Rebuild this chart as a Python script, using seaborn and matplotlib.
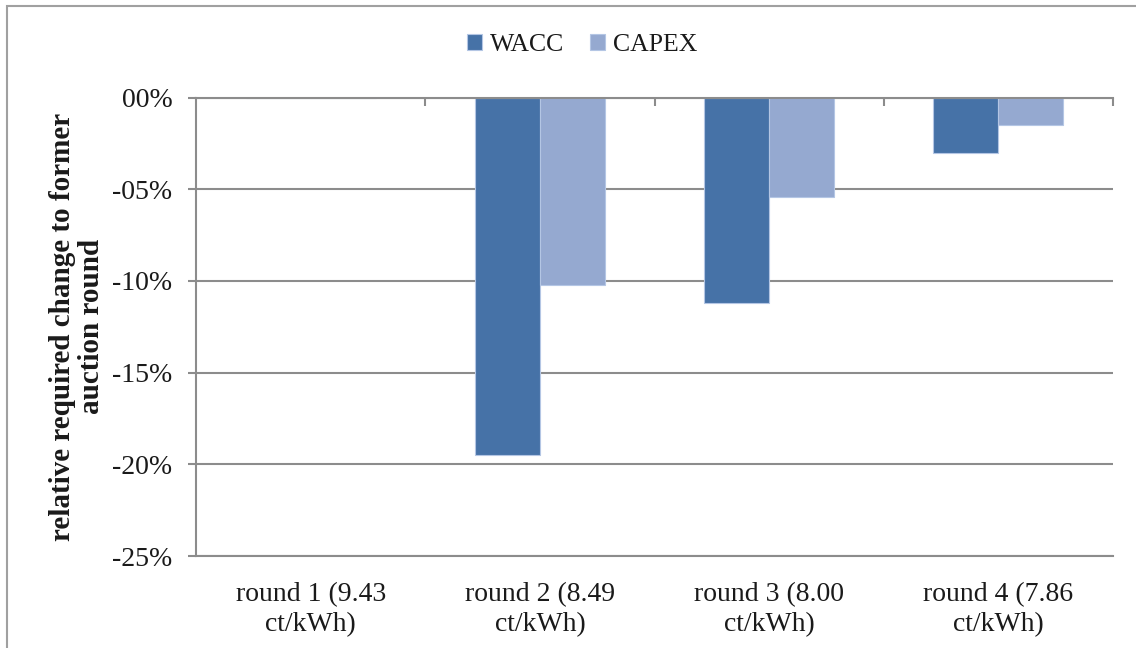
import matplotlib
matplotlib.use("Agg")
import matplotlib.pyplot as plt
from matplotlib.patches import Rectangle
from matplotlib.ticker import FuncFormatter, FixedLocator
import numpy as np
import pandas as pd
import seaborn as sns

# Auction rounds with the awarded tariff
rounds = ["round 1 (9.43\nct/kWh)", "round 2 (8.49\nct/kWh)",
          "round 3 (8.00\nct/kWh)", "round 4 (7.86\nct/kWh)"]
# Relative change required versus the previous round, in percent
wacc = [0.0, -19.5, -11.2, -3.0]
capex = [0.0, -10.2, -5.4, -1.5]
series = ["WACC", "CAPEX"]
y_ticks = [0, -5, -10, -15, -20, -25]

colors = {"WACC": "#4672A7", "CAPEX": "#95A9D0"}
grid_gray = "#8C8C8C"
text_color = "#1a1a1a"

df = pd.DataFrame({
    "round": rounds * 2,
    "series": [series[0]] * len(rounds) + [series[1]] * len(rounds),
    "value": wacc + capex,
})

sns.set_theme(style="white")
plt.rcParams["font.family"] = ["Liberation Serif", "DejaVu Serif"]

fig = plt.figure(figsize=(11.36, 6.48), dpi=100)
ax = fig.add_axes([196 / 1136, 1 - 556 / 648, 917 / 1136, (556 - 97.5) / 648])

sns.barplot(data=df, x="round", y="value", hue="series", order=rounds,
            hue_order=series, palette=colors, saturation=1, width=0.567,
            gap=0, edgecolor="#B4C6E4", linewidth=0.8, ax=ax, legend=True)

ax.set_ylim(-25, 0)
ax.set_xlim(-0.5, len(rounds) - 0.5)
ax.yaxis.set_major_locator(FixedLocator(y_ticks))
ax.yaxis.set_major_formatter(FuncFormatter(
    lambda v, _: ("-" if v < 0 else "") + f"{abs(v):02.0f}%"))
ax.set_axisbelow(True)
ax.grid(axis="y", color=grid_gray, linewidth=1.5)
ax.grid(axis="x", visible=False)

ax.spines["right"].set_visible(False)
for side in ["left", "top", "bottom"]:
    ax.spines[side].set_color(grid_gray)
    ax.spines[side].set_linewidth(1.5)

ax.tick_params(axis="y", which="major", left=True, length=6, width=1.5,
               color=grid_gray, pad=11, labelsize=20, labelcolor=text_color)
ax.tick_params(axis="x", which="major", bottom=False, top=False, pad=13,
               labelsize=20, labelcolor=text_color)
for lbl in ax.get_xticklabels():
    lbl.set_linespacing(1.25)

# Category separators hang down from the zero line
ax.xaxis.set_minor_locator(FixedLocator(np.arange(0.5, len(rounds), 1.0)))
ax.tick_params(axis="x", which="minor", top=True, bottom=False,
               direction="in", length=6, width=1.5, color=grid_gray)

ax.set_xlabel("")
ax.set_ylabel("relative required change to former\nauction round",
              fontsize=21, fontweight="bold", color=text_color,
              linespacing=1.1, va="center")
ax.yaxis.set_label_coords(-0.13, 0.5)

ax.legend(loc="center", bbox_to_anchor=(582 / 1136, 1 - 45 / 648),
          bbox_transform=fig.transFigure, ncol=2, frameon=False,
          fontsize=18.5, handlelength=0.6, handleheight=0.6,
          handletextpad=0.3, columnspacing=1.0, borderaxespad=0,
          labelcolor=text_color)

# Chart frame
fig.patches.append(Rectangle((7 / 1136, -0.05), 1.2, 1 - 5.5 / 648 + 0.05,
                             transform=fig.transFigure, fill=False,
                             edgecolor="#A0A0A0", linewidth=1.5))

fig.savefig("out.png", dpi=100)
